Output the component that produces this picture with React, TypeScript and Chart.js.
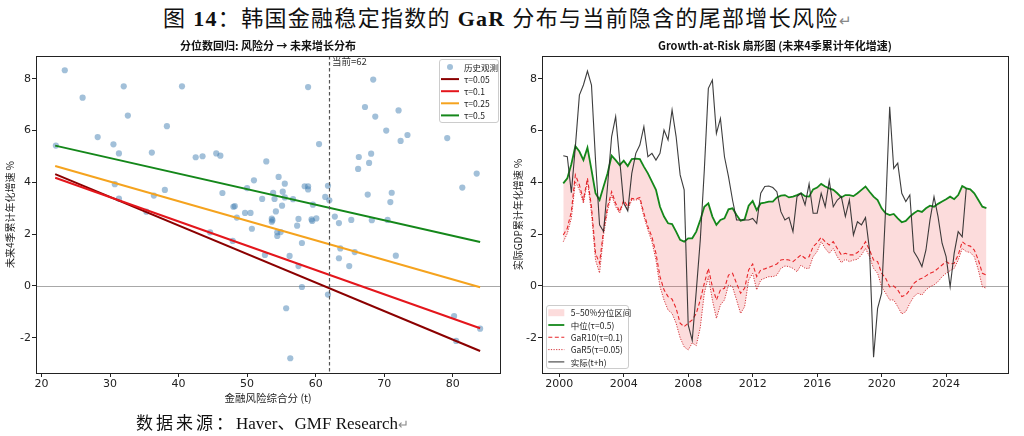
import React, { useEffect, useRef } from "react";
import { Chart, registerables } from "chart.js";

Chart.register(...registerables);

// ---------------- Left panel data: quantile regression ----------------
const SCORE = [
  23.4, 26.0, 32.0, 40.5, 32.6, 38.3, 28.2, 30.5, 31.3, 36.1,
  22.1, 42.5, 43.5, 45.5, 46.1, 52.8, 54.6, 51.0, 50.0, 53.8,
  52.2, 54.0, 46.4, 38.0, 36.4, 30.7, 31.3, 48.2, 48.0, 49.7,
  50.5, 48.5, 54.2, 53.6, 53.6, 53.7, 50.7, 54.4, 54.4, 54.9,
  35.3, 44.6, 47.9, 52.6, 58.9, 68.4, 67.2, 68.7, 72.1, 70.3,
  72.4, 73.4, 79.2, 60.5, 66.3, 68.1, 66.2, 67.8, 83.5, 81.4,
  55.5, 58.4, 58.9, 58.9, 61.8, 55.2, 55.5, 56.7, 61.4, 62.0,
  67.6, 71.1, 70.9, 59.6, 55.1, 62.8, 57.5, 57.3, 59.4, 59.5,
  60.1, 63.4, 65.2, 68.2, 70.5, 58.0, 63.6, 65.7, 56.2, 57.5,
  63.4, 64.9, 71.7, 58.0, 61.8, 55.7, 56.3, 80.2, 80.5, 84.0,
];
const GROWTH = [
  8.33, 7.27, 7.71, 7.71, 6.58, 6.17, 5.75, 5.47, 5.12, 5.15,
  5.42, 4.97, 5.01, 5.12, 5.03, 4.81, 4.21, 4.08, 3.78, 3.60,
  3.36, 3.36, 3.59, 3.71, 3.49, 3.93, 3.37, 3.08, 3.06, 2.82,
  2.82, 2.64, 2.88, 2.60, 2.48, 2.54, 2.21, 2.07, 1.93, 2.08,
  2.87, 2.07, 1.74, 1.20, 7.68, 7.97, 6.91, 6.54, 6.78, 6.00,
  5.60, 5.83, 5.71, 5.48, 4.98, 5.11, 4.52, 4.75, 4.34, 3.80,
  3.95, 3.85, 3.85, 3.73, 3.87, 3.64, 3.42, 3.35, 3.44, 3.31,
  3.53, 3.60, 3.24, 3.14, 3.10, 2.68, 2.59, 2.33, 2.57, 2.51,
  2.61, 2.43, 2.55, 2.54, 2.55, 1.66, 1.45, 1.31, 1.16, 0.77,
  1.07, 0.77, 1.17, -0.04, -0.33, -0.86, -2.79, -1.16, -2.12, -1.65,
];
const QR_X = [22, 84];
const QR_05 = [4.32, -2.51];
const QR_10 = [4.18, -1.63];
const QR_25 = [4.63, -0.05];
const QR_50 = [5.42, 1.7];
const CURRENT_SCORE = 62;
const LEFT_X_TICKS = [20, 30, 40, 50, 60, 70, 80];
const Y_TICKS = [-2, 0, 2, 4, 6, 8];

// ---------------- Right panel data: GaR fan chart (quarterly) ----------------
const START_YEAR = 2000.25;
const MEDIAN = [
  3.96, 4.16, 4.7, 5.4, 5.19, 4.86, 5.34, 4.48, 3.58, 3.32,
  3.84, 4.35, 5.03, 4.86, 4.67, 4.84, 4.63, 4.9, 4.92, 4.9,
  4.61, 4.35, 4.03, 3.71, 3.06, 2.68, 2.42, 2.39, 2.1, 1.78,
  1.71, 1.84, 1.84, 2.1, 2.55, 3.06, 3.19, 2.68, 2.36, 2.55,
  2.61, 2.96, 3.0, 2.74, 2.52, 2.57, 3.1, 3.28, 2.93, 3.19,
  3.22, 3.26, 3.26, 3.42, 3.49, 3.51, 3.42, 3.45, 3.51, 3.58,
  3.47, 3.45, 3.73, 3.8, 3.94, 3.84, 3.77, 3.71, 3.58, 3.42,
  3.51, 3.51, 3.47, 3.58, 3.71, 3.84, 3.64, 3.45, 3.32, 3.0,
  2.81, 2.74, 2.78, 2.61, 2.46, 2.51, 2.68, 2.81, 2.91, 2.86,
  3.0, 3.1, 3.06, 3.17, 3.26, 3.35, 3.45, 3.35, 3.51, 3.86,
  3.77, 3.73, 3.58, 3.32, 3.06, 3.01,
];
const GAR10 = [
  1.97, 2.23, 2.87, 4.29, 3.9, 3.32, 4.16, 3.06, 1.26, 0.88,
  2.16, 3.06, 3.64, 3.19, 2.87, 3.32, 3.06, 3.38, 3.36, 3.42,
  2.81, 2.29, 1.9, 1.26, 0.36, -0.15, -0.41, -0.51, -0.86, -1.44,
  -1.57, -1.44, -1.31, -1.06, -0.54, 0.1, 0.68, -0.03, -0.54, -0.15,
  -0.09, 0.42, 0.49, 0.1, -0.28, -0.09, 0.62, 0.85, 0.36, 0.62,
  0.66, 0.72, 0.78, 0.85, 1.0, 1.03, 1.0, 0.94, 1.07, 1.2,
  1.07, 1.13, 1.52, 1.67, 1.88, 1.71, 1.58, 1.71, 1.45, 1.2,
  1.26, 1.2, 1.2, 1.29, 1.45, 1.71, 1.39, 1.0, 0.94, 0.49,
  0.3, -0.03, 0.0, -0.15, -0.41, -0.35, -0.15, 0.1, 0.23, 0.3,
  0.39, 0.49, 0.55, 0.68, 0.81, 0.94, 0.85, 0.88, 1.2, 1.71,
  1.58, 1.54, 1.39, 1.0, 0.49, 0.42,
];
const GAR5 = [
  1.71, 2.03, 2.61, 4.03, 3.71, 3.19, 4.03, 2.81, 1.0, 0.5,
  1.97, 2.93, 3.51, 3.06, 2.81, 3.26, 2.93, 3.32, 3.32, 3.35,
  2.68, 2.16, 1.71, 1.0, -0.03, -0.54, -0.93, -1.06, -1.44, -2.0,
  -2.35, -2.47, -2.2, -2.3, -1.6, -0.28, 0.36, -0.54, -1.25, -0.73,
  -0.54, 0.04, -0.03, -0.54, -1.06, -0.8, 0.23, 0.49, -0.15, 0.23,
  0.3, 0.36, 0.36, 0.42, 0.68, 0.77, 0.75, 0.68, 0.55, 0.81,
  0.68, 0.68, 1.13, 1.33, 1.71, 1.45, 1.26, 1.45, 1.13, 0.9,
  1.03, 0.94, 1.0, 1.03, 1.2, 1.45, 1.13, 0.68, 0.49, -0.03,
  -0.28, -0.54, -0.54, -0.8, -1.08, -0.99, -0.67, -0.41, -0.28, -0.35,
  -0.15, -0.03, 0.04, 0.17, 0.36, 0.49, 0.59, 0.68, 1.0, 1.45,
  1.33, 1.29, 1.13, 0.62, -0.03, -0.09,
];
const ACTUAL = [
  5.03, 4.99, 3.6, 5.38, 7.37, 7.76, 8.3, 7.76, 4.86, 2.36,
  2.1, 3.9, 5.77, 6.54, 4.86, 3.19, 2.9, 4.35, 5.12, 5.44,
  6.15, 4.99, 5.12, 4.86, 5.12, 6.02, 5.64, 6.8, 5.77, 4.29,
  3.71, -1.5, -2.1, -0.2, 1.78, 4.48, 7.63, 7.95, 5.89, 6.47,
  4.99, 4.22, 3.32, 2.55, 2.55, 2.55, 2.55, 2.61, 2.42, 3.58,
  3.84, 3.86, 3.8, 3.64, 2.87, 2.55, 2.65, 2.1, 3.45, 3.58,
  3.13, 3.94, 2.81, 2.81, 3.58, 3.06, 4.07, 3.06, 3.32, 3.45,
  2.68, 3.32, 1.97, 2.48, 2.36, 2.64, 1.39, -2.75, -0.86, -0.28,
  3.0, 6.92, 4.54, 4.74, 3.58, 3.26, 3.51, 1.33, 1.07, 0.75,
  1.39, 2.55, 3.45, 2.68, 1.65, 1.13, -0.03, 1.26, 2.1, 1.9,
  3.77,
];
const RIGHT_X_TICKS = [2000, 2004, 2008, 2012, 2016, 2020, 2024];

// ---------------- styling ----------------
const CJK = '"Noto Sans CJK SC", "Noto Sans", sans-serif';
const TICKF = '"DejaVu Sans", sans-serif';
const SERIF = '"Liberation Serif", "Noto Sans CJK SC", serif';

const yearOf = (i: number) => START_YEAR + i / 4;
const toPts = (arr: number[]) => arr.map((y, i) => ({ x: yearOf(i), y }));

type LegItem = { label: string; kind: "dot" | "line" | "box"; color: string; width?: number; dash?: number[] };

function drawLegend(
  ctx: CanvasRenderingContext2D,
  bx: number, by: number, bw: number, bh: number,
  items: LegItem[], firstRow: number, rowH: number, s0: number, s1: number, tx: number
) {
  ctx.save();
  ctx.fillStyle = "rgba(255,255,255,0.85)";
  ctx.strokeStyle = "#cccccc";
  ctx.lineWidth = 1;
  ctx.beginPath();
  (ctx as any).roundRect(bx + 0.5, by + 0.5, bw, bh, 2.5);
  ctx.fill();
  ctx.stroke();
  ctx.font = `8.5px ${CJK}`;
  ctx.textBaseline = "middle";
  ctx.textAlign = "left";
  items.forEach((it, k) => {
    const cy = by + firstRow + k * rowH;
    if (it.kind === "dot") {
      ctx.fillStyle = it.color;
      ctx.beginPath();
      ctx.arc(bx + (s0 + s1) / 2, cy, 3, 0, Math.PI * 2);
      ctx.fill();
    } else if (it.kind === "box") {
      ctx.fillStyle = it.color;
      ctx.fillRect(bx + s0, cy - 3.5, s1 - s0, 7);
    } else {
      ctx.strokeStyle = it.color;
      ctx.lineWidth = it.width || 1.5;
      ctx.setLineDash(it.dash || []);
      ctx.beginPath();
      ctx.moveTo(bx + s0, cy);
      ctx.lineTo(bx + s1, cy);
      ctx.stroke();
      ctx.setLineDash([]);
    }
    ctx.fillStyle = "#222";
    ctx.fillText(it.label, bx + tx, cy + 0.5);
  });
  ctx.restore();
}

function makeDecor(cfg: {
  title: string;
  vline?: number;
  vlabel?: string;
  legend: (ctx: CanvasRenderingContext2D, area: any) => void;
}) {
  return {
    id: "decor",
    beforeDatasetsDraw(chart: any) {
      const { ctx, chartArea, scales } = chart;
      const y0 = Math.round(scales.y.getPixelForValue(0)) + 0.5;
      ctx.save();
      ctx.strokeStyle = "#a8a8a8";
      ctx.lineWidth = 1;
      ctx.beginPath();
      ctx.moveTo(chartArea.left, y0);
      ctx.lineTo(chartArea.right, y0);
      ctx.stroke();
      ctx.restore();
    },
    afterDatasetsDraw(chart: any) {
      if (cfg.vline === undefined) return;
      const { ctx, chartArea, scales } = chart;
      const x = Math.round(scales.x.getPixelForValue(cfg.vline)) + 0.5;
      ctx.save();
      ctx.strokeStyle = "#555";
      ctx.lineWidth = 1.2;
      ctx.setLineDash([3.5, 2.5]);
      ctx.beginPath();
      ctx.moveTo(x, chartArea.top);
      ctx.lineTo(x, chartArea.bottom);
      ctx.stroke();
      ctx.setLineDash([]);
      if (cfg.vlabel) {
        ctx.fillStyle = "#333";
        ctx.font = `9.5px ${CJK}`;
        ctx.textBaseline = "middle";
        ctx.textAlign = "left";
        ctx.fillText(cfg.vlabel, x + 2.5, chartArea.top + 5);
      }
      ctx.restore();
    },
    afterDraw(chart: any) {
      const { ctx, chartArea } = chart;
      ctx.save();
      ctx.strokeStyle = "#222";
      ctx.lineWidth = 1;
      ctx.strokeRect(
        Math.round(chartArea.left) + 0.5,
        Math.round(chartArea.top) + 0.5,
        Math.round(chartArea.right - chartArea.left),
        Math.round(chartArea.bottom - chartArea.top)
      );
      ctx.fillStyle = "#111";
      ctx.font = `bold 11px ${CJK}`;
      ctx.textAlign = "center";
      ctx.textBaseline = "middle";
      ctx.fillText(cfg.title, (chartArea.left + chartArea.right) / 2, chartArea.top - 10);
      ctx.restore();
      cfg.legend(ctx, chartArea);
    },
  };
}

function axisCommon(ticks: number[], fixed: { width?: number; height?: number }) {
  return {
    type: "linear",
    afterBuildTicks: (s: any) => {
      s.ticks = ticks.map((v) => ({ value: v }));
    },
    afterFit: (s: any) => {
      if (fixed.width !== undefined) s.width = fixed.width;
      if (fixed.height !== undefined) s.height = fixed.height;
    },
    grid: { display: true, drawOnChartArea: false, drawTicks: true, tickLength: 4, color: "#222", lineWidth: 1 },
    border: { display: false },
    ticks: {
      font: { family: TICKF, size: 11 },
      color: "#222",
      padding: 1,
      maxRotation: 0,
      autoSkip: false,
      callback: (v: any) => String(v),
    },
  };
}

function leftConfig(): any {
  const line = (label: string, ys: number[], color: string, order: number) => ({
    label,
    data: QR_X.map((x, i) => ({ x, y: ys[i] })),
    showLine: true,
    borderColor: color,
    backgroundColor: color,
    borderWidth: 2,
    pointRadius: 0,
    order,
  });
  return {
    type: "scatter",
    data: {
      datasets: [
        line("τ=0.05", QR_05, "#8b0000", 4),
        line("τ=0.1", QR_10, "#e4161c", 3),
        line("τ=0.25", QR_25, "#f5a31e", 2),
        line("τ=0.5", QR_50, "#14871a", 1),
        {
          label: "历史观测",
          data: SCORE.map((x, i) => ({ x, y: GROWTH[i] })),
          backgroundColor: "rgba(70,130,180,0.5)",
          borderColor: "rgba(70,130,180,0.5)",
          borderWidth: 0,
          pointRadius: 3.1,
          order: 10,
        },
      ],
    },
    options: {
      responsive: false,
      animation: false,
      events: [],
      layout: { padding: { top: 26, right: 12, bottom: 6, left: 0 } },
      plugins: { legend: { display: false }, tooltip: { enabled: false }, title: { display: false } },
      scales: {
        x: {
          ...axisCommon(LEFT_X_TICKS, { height: 35 }),
          min: 19.2,
          max: 86.9,
          title: {
            display: true,
            text: "金融风险综合分 (t)",
            font: { family: CJK, size: 10.5 },
            color: "#222",
            padding: { top: 0, bottom: 4 },
          },
        },
        y: {
          ...axisCommon(Y_TICKS, { width: 36 }),
          min: -3.36,
          max: 8.88,
          title: {
            display: true,
            text: "未来4季累计年化增速 %",
            font: { family: CJK, size: 10 },
            color: "#222",
            padding: { top: 4, bottom: 0 },
          },
        },
      },
    },
    plugins: [
      makeDecor({
        title: "分位数回归: 风险分 → 未来增长分布",
        vline: CURRENT_SCORE,
        vlabel: "当前=" + CURRENT_SCORE,
        legend: (ctx, a) => {
          const bw = 59, bh = 63;
          drawLegend(
            ctx, a.right - 2 - bw, a.top + 3, bw, bh,
            [
              { label: "历史观测", kind: "dot", color: "rgba(70,130,180,0.5)" },
              { label: "τ=0.05", kind: "line", color: "#8b0000", width: 2 },
              { label: "τ=0.1", kind: "line", color: "#e4161c", width: 2 },
              { label: "τ=0.25", kind: "line", color: "#f5a31e", width: 2 },
              { label: "τ=0.5", kind: "line", color: "#14871a", width: 2 },
            ],
            8, 12.1, 2, 20, 25
          );
        },
      }),
    ],
  };
}

function rightConfig(): any {
  const base = { pointRadius: 0, tension: 0, fill: false };
  return {
    type: "line",
    data: {
      datasets: [
        {
          ...base,
          label: "5–50%分位区间",
          data: toPts(GAR5),
          borderWidth: 0,
          borderColor: "rgba(0,0,0,0)",
          backgroundColor: "rgba(240,80,80,0.2)",
          fill: { target: 1 },
          order: 10,
        },
        { ...base, label: "中位(τ=0.5)", data: toPts(MEDIAN), borderColor: "#14871a", borderWidth: 1.8, order: 4 },
        {
          ...base,
          label: "GaR10(τ=0.1)",
          data: toPts(GAR10),
          borderColor: "#e8262a",
          borderWidth: 1.1,
          borderDash: [4, 2.5],
          order: 3,
        },
        {
          ...base,
          label: "GaR5(τ=0.05)",
          data: toPts(GAR5),
          borderColor: "#cf2026",
          borderWidth: 0.9,
          borderDash: [1.2, 1.4],
          order: 2,
        },
        { ...base, label: "实际(t+h)", data: toPts(ACTUAL), borderColor: "rgba(40,40,40,0.9)", borderWidth: 1.1, order: 1 },
      ],
    },
    options: {
      responsive: false,
      animation: false,
      events: [],
      layout: { padding: { top: 26, right: 16, bottom: 6, left: 0 } },
      plugins: { legend: { display: false }, tooltip: { enabled: false }, title: { display: false } },
      scales: {
        x: { ...axisCommon(RIGHT_X_TICKS, { height: 35 }), min: 1998.93, max: 2027.84 },
        y: {
          ...axisCommon(Y_TICKS, { width: 30 }),
          min: -3.36,
          max: 8.88,
          title: {
            display: true,
            text: "实际GDP累计年化增速 %",
            font: { family: CJK, size: 10 },
            color: "#222",
            padding: { top: 0, bottom: 0 },
          },
        },
      },
    },
    plugins: [
      makeDecor({
        title: "Growth-at-Risk 扇形图 (未来4季累计年化增速)",
        legend: (ctx, a) => {
          const bw = 82, bh = 63;
          drawLegend(
            ctx, a.left + 4, a.bottom - 5 - bh, bw, bh,
            [
              { label: "5–50%分位区间", kind: "box", color: "rgba(240,80,80,0.2)" },
              { label: "中位(τ=0.5)", kind: "line", color: "#14871a", width: 1.8 },
              { label: "GaR10(τ=0.1)", kind: "line", color: "#e8262a", width: 1.1, dash: [4, 2.5] },
              { label: "GaR5(τ=0.05)", kind: "line", color: "#cf2026", width: 0.9, dash: [1.2, 1.4] },
              { label: "实际(t+h)", kind: "line", color: "rgba(40,40,40,0.9)", width: 1.1 },
            ],
            7.7, 12.3, 2.3, 18.3, 24.7
          );
        },
      }),
    ],
  };
}

function ChartCanvas({ build, left }: { build: () => any; left: number }) {
  const ref = useRef<HTMLCanvasElement>(null);
  useEffect(() => {
    const chart = new Chart(ref.current as HTMLCanvasElement, build());
    return () => chart.destroy();
  }, []);
  return (
    <canvas
      ref={ref}
      width={512}
      height={384}
      style={{ position: "absolute", left, top: 30, width: 512, height: 384 }}
    />
  );
}

export default function App() {
  return (
    <div style={{ position: "fixed", left: 0, top: 0, width: 1024, height: 436, background: "#fff", overflow: "hidden" }}>
      <div
        style={{
          position: "absolute",
          left: 0,
          top: 4,
          width: 1016,
          textAlign: "center",
          fontFamily: SERIF,
          fontSize: 22,
          lineHeight: "30px",
          letterSpacing: 1.3,
          color: "#111",
          whiteSpace: "nowrap",
        }}
      >
        图 <b>14</b>：韩国金融稳定指数的 <b>GaR</b> 分布与当前隐含的尾部增长风险
        <span style={{ color: "#888", fontSize: 15 }}>↵</span>
      </div>
      <ChartCanvas build={leftConfig} left={0} />
      <ChartCanvas build={rightConfig} left={512} />
      <div
        style={{
          position: "absolute",
          left: 136,
          top: 412,
          fontFamily: SERIF,
          fontSize: 17,
          lineHeight: "24px",
          color: "#111",
          whiteSpace: "nowrap",
        }}
      >
        <span style={{ letterSpacing: 3 }}>数据来源：</span>Haver、GMF Research
        <span style={{ color: "#888", fontSize: 13 }}>↵</span>
      </div>
    </div>
  );
}
